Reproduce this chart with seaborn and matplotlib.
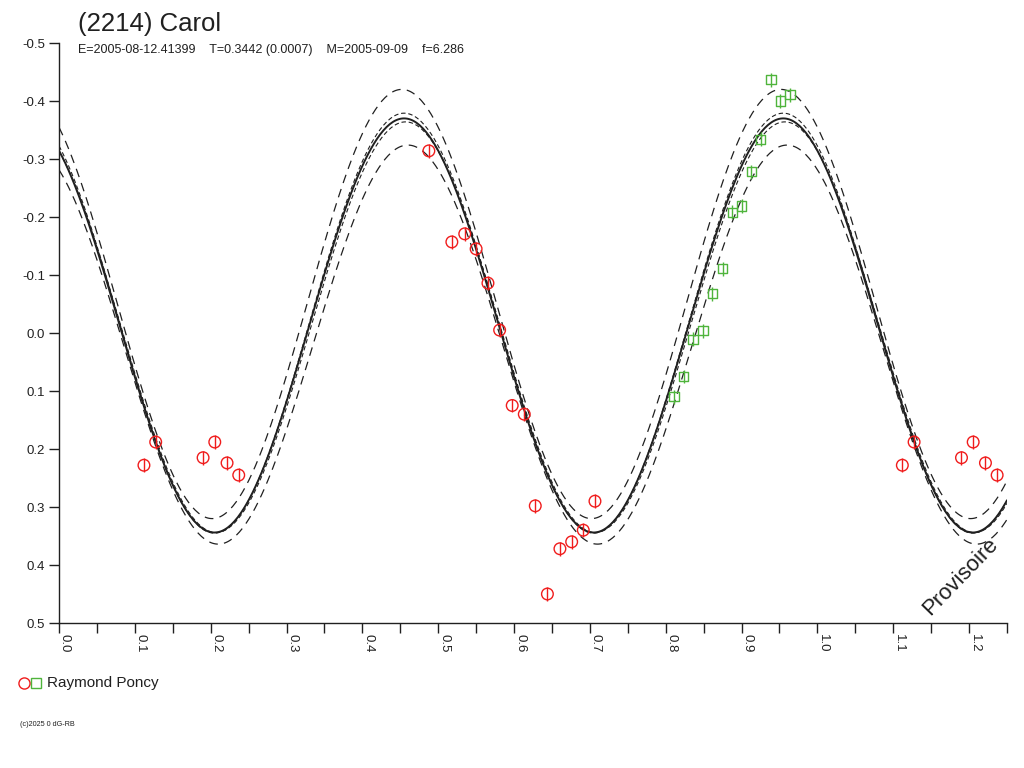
import numpy as np
import pandas as pd
import matplotlib
matplotlib.use('Agg')
import matplotlib.pyplot as plt
import seaborn as sns

# Observations (phase, magnitude) - Raymond Poncy, two nights
red_phase = [0.112, 0.1275, 0.190, 0.2054, 0.2216, 0.237,
             0.4877, 0.518, 0.535, 0.550, 0.5656, 0.581, 0.5976, 0.6135,
             0.628, 0.644, 0.6605, 0.676, 0.6913, 0.7067]
red_mag = [0.228, 0.188, 0.215, 0.188, 0.224, 0.245,
           -0.314, -0.157, -0.171, -0.145, -0.086, -0.005, 0.125, 0.140,
           0.298, 0.450, 0.372, 0.360, 0.340, 0.290]

green_phase = [0.811, 0.8236, 0.836, 0.849, 0.8615, 0.875, 0.888,
               0.900, 0.913, 0.925, 0.939, 0.951, 0.964]
green_mag = [0.110, 0.075, 0.011, -0.004, -0.068, -0.111, -0.208,
             -0.219, -0.278, -0.334, -0.437, -0.400, -0.411]

red_err = 0.012
green_err = 0.012

# Fourier fit (2nd harmonic) : mean, half amplitude, phase of maximum
fit_mean = [-0.013, -0.017, -0.010, -0.050, 0.020]
fit_amp = [0.357, 0.362, 0.354, 0.370, 0.344]
fit_max = [0.455, 0.455, 0.457, 0.452, 0.460]
fit_kind = ['fit', 'inner', 'inner', 'outer', 'outer']

title = '(2214) Carol'
subtitle = 'E=2005-08-12.41399    T=0.3442 (0.0007)    M=2005-09-09    f=6.286'
observer = 'Raymond Poncy'

sns.set_theme(style='white')
plt.rcParams['font.family'] = ['Liberation Sans', 'DejaVu Sans']

fig = plt.figure(figsize=(10.24, 7.68), dpi=100)
ax = fig.add_axes([59/1024, 1-623/768, (1007-59)/1024, (623-43)/768])

# fit curves
phase = np.linspace(0, 1.25, 600)
for m, a, p0, kind in zip(fit_mean, fit_amp, fit_max, fit_kind):
    mag = m - a*np.cos(4*np.pi*(phase - p0))
    if kind == 'fit':
        sns.lineplot(x=phase, y=mag, ax=ax, color='#202020', lw=1.4)
    elif kind == 'inner':
        sns.lineplot(x=phase, y=mag, ax=ax, color='#202020', lw=0.8,
                     linestyle=(0, (4, 2.5)))
    else:
        sns.lineplot(x=phase, y=mag, ax=ax, color='#202020', lw=0.9,
                     linestyle=(0, (7, 5)))

# red points, repeated after phase 1
red = pd.DataFrame({'phase': red_phase, 'mag': red_mag})
red_all = pd.concat([red, red[red['phase'] < 0.25].assign(phase=lambda d: d['phase'] + 1)])
green = pd.DataFrame({'phase': green_phase, 'mag': green_mag})

ax.vlines(red_all['phase'], red_all['mag'] - red_err, red_all['mag'] + red_err,
          color='#f01c1c', lw=1.0, zorder=4)
sns.scatterplot(data=red_all, x='phase', y='mag', ax=ax, marker='o', s=70,
                facecolor='none', edgecolor='#f01c1c', linewidth=1.0, zorder=5)
ax.vlines(green['phase'], green['mag'] - green_err, green['mag'] + green_err,
          color='#4fb43c', lw=1.0, zorder=4)
sns.scatterplot(data=green, x='phase', y='mag', ax=ax, marker='s', s=45,
                facecolor='none', edgecolor='#4fb43c', linewidth=1.0, zorder=5)

# axes
ax.set_xlim(0, 1.25)
ax.set_ylim(0.5, -0.5)
yt = [-0.5, -0.4, -0.3, -0.2, -0.1, 0.0, 0.1, 0.2, 0.3, 0.4, 0.5]
ax.set_yticks(yt)
ax.set_yticklabels(['%.1f' % v if v != 0 else '0.0' for v in yt], fontsize=9.5, color='#202020')
xt = [0.0, 0.1, 0.2, 0.3, 0.4, 0.5, 0.6, 0.7, 0.8, 0.9, 1.0, 1.1, 1.2]
ax.set_xticks(xt)
ax.set_xticks(np.arange(0.05, 1.26, 0.1), minor=True)
ax.set_xticklabels(['%.1f' % v for v in xt], fontsize=9.5, color='#202020',
                   rotation=-90, ha='left', va='top')
ax.tick_params(axis='both', which='both', direction='out', length=7, width=1,
               color='#202020', left=True, bottom=True)
ax.tick_params(axis='x', which='both', pad=1)
ax.tick_params(axis='y', pad=3)
ax.set_xlabel('')
ax.set_ylabel('')
for side in ['top', 'right']:
    ax.spines[side].set_visible(False)
for side in ['left', 'bottom']:
    ax.spines[side].set_color('#202020')
    ax.spines[side].set_linewidth(1)
ax.grid(False)

# texts
fig.text(78/1024, 1-31/768, title, fontsize=18.5, color='#202020', va='baseline')
fig.text(78/1024, 1-53/768, subtitle, fontsize=9, color='#202020', va='baseline')
fig.text(960/1024, 1-577/768, 'Provisoire', fontsize=16, color='#202020',
         rotation=46, ha='center', va='center')

# legend
fig.lines.append(plt.Line2D([24/1024], [1-683/768], marker='o', ms=8, mfc='none',
                            mec='#f01c1c', mew=1, transform=fig.transFigure))
fig.lines.append(plt.Line2D([36/1024], [1-683/768], marker='s', ms=6.5, mfc='none',
                            mec='#4fb43c', mew=1, transform=fig.transFigure))
fig.text(47/1024, 1-683/768, observer, fontsize=11, color='#202020', va='center')
fig.text(20/1024, 1-725/768, '(c)2025 0 dG-RB', fontsize=5.2, color='#202020', va='center')

fig.savefig('out.png', dpi=100)
